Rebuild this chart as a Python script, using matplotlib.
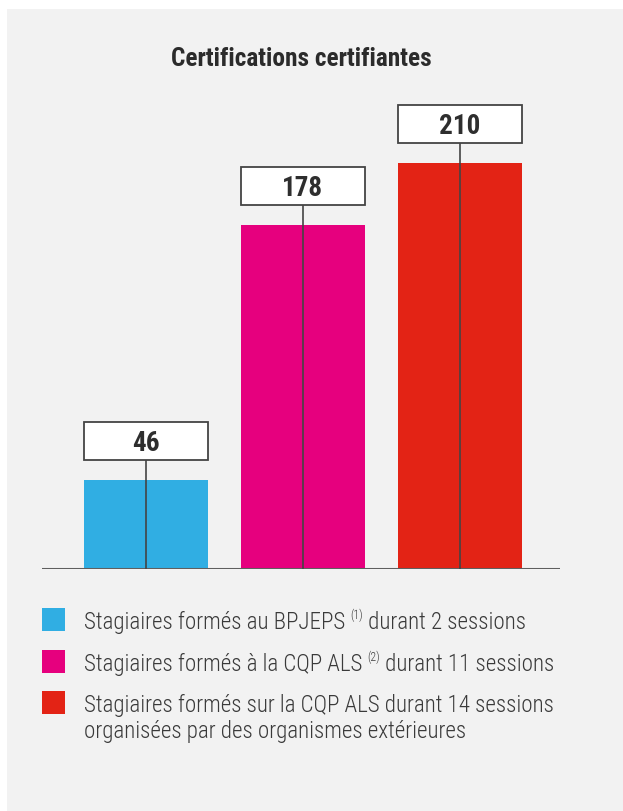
import matplotlib
matplotlib.use("Agg")
from matplotlib import pyplot as plt
from matplotlib.patches import Rectangle
import numpy as np

plt.rcParams['font.family'] = ['Roboto Condensed', 'DejaVu Sans']

W, H = 623, 811

title = "Certifications certifiantes"
values = [46, 178, 210]
colors = ['#30aee3', '#e6007e', '#e32315']
# each legend row: list of lines, each line a list of (text, is_superscript)
legend_rows = [
    [[("Stagiaires formés au BPJEPS ", False), ("(1)", True), (" durant 2 sessions", False)]],
    [[("Stagiaires formés à la CQP ALS ", False), ("(2)", True), (" durant 11 sessions", False)]],
    [[("Stagiaires formés sur la CQP ALS durant 14 sessions", False)],
     [("organisées par des organismes extérieures", False)]],
]

TEXT = '#3a3a3a'

fig = plt.figure(figsize=(W / 100, H / 100), dpi=100)
fig.patch.set_facecolor('white')

# full-figure overlay in pixel units (y down) for panel, title and legend
bg = fig.add_axes([0, 0, 1, 1], zorder=0)
bg.set_xlim(0, W)
bg.set_ylim(H, 0)
bg.axis('off')
bg.add_patch(Rectangle((7, 9), W - 7, H - 9, facecolor='#f2f2f2', edgecolor='none'))

bg.text(301, 66, title, ha='center', va='baseline', fontsize=18.3, fontweight='bold', color='#2b2b2b')

# bar chart axes: baseline at y=568.5px, from x=42 to 560px
px_per_unit = 1.932
base_px, top_px = 568.5, 100
ax = fig.add_axes([42 / W, (H - base_px) / H, (560 - 42) / W, (base_px - top_px) / H], zorder=1)
ax.set_facecolor('none')
ax.set_ylim(0, (base_px - top_px) / px_per_unit)
ax.set_xlim(-0.662, 2.637)
ax.axis('off')

x = np.arange(len(values))
bw = 0.79
ax.bar(x, values, width=bw, color=colors, zorder=2)
ax.axhline(0, color='#5f5f5f', lw=2.2, zorder=3)

gap = 20 / px_per_unit
box_h = 38 / px_per_unit
for xi, v in zip(x, values):
    y0 = v + gap
    ax.add_patch(Rectangle((xi - bw / 2, y0), bw, box_h, facecolor='white',
                           edgecolor='#444444', lw=1.3, zorder=4))
    ax.plot([xi, xi], [0, y0], color='#444444', lw=1.2, zorder=3)
    ax.text(xi, y0 + box_h / 2, str(v), ha='center', va='center_baseline', fontsize=19.5,
            fontweight='bold', color='#2e2e2e', zorder=5)

# legend
renderer = fig.canvas.get_renderer()
square_tops = [608, 650, 691]
baselines = [629, 671, 712]
line_step = 26
for row, sq_top, bl, c in zip(legend_rows, square_tops, baselines, colors):
    bg.add_patch(Rectangle((42, sq_top), 23, 23, facecolor=c, edgecolor='none'))
    for li, line in enumerate(row):
        cx = 84
        y = bl + li * line_step
        for txt, sup in line:
            if sup:
                t = bg.text(cx, y - 10, txt, fontsize=8.5, fontweight='light', color=TEXT,
                            va='baseline', ha='left')
            else:
                t = bg.text(cx, y, txt, fontsize=16.6, fontweight='light', color=TEXT,
                            va='baseline', ha='left')
            ext = t.get_window_extent(renderer)
            cx += ext.width

fig.savefig('out.png', dpi=100)
